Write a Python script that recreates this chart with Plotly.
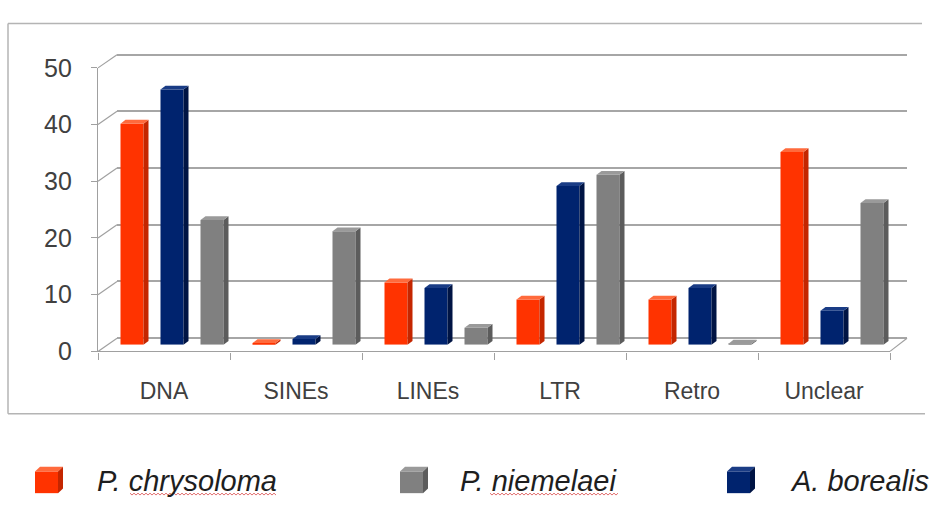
import plotly.graph_objects as go

# ---- data -------------------------------------------------------------
categories = ["DNA", "SINEs", "LINEs", "LTR", "Retro", "Unclear"]
p_chrysoloma = [39, 0.3, 11, 8, 8, 34]
a_borealis = [45, 1, 10, 28, 10, 6]
p_niemelaei = [22, 20, 3, 30, 0.2, 25]
y_ticks = [0, 10, 20, 30, 40, 50]

# series drawn left-to-right inside each category group
series = [
    ("P. chrysoloma", p_chrysoloma, "#FF3300", "#C42600", "#FF6A3C"),
    ("A. borealis", a_borealis, "#00236E", "#001444", "#1A3C85"),
    ("P. niemelaei", p_niemelaei, "#808080", "#5C5C5C", "#9A9A9A"),
]
# legend order as printed under the chart
legend_order = [0, 2, 1]

# ---- page geometry (pixels) --------------------------------------------
W, H = 934, 510
PX_PER_UNIT = 6.0          # vertical pixels per value unit
N = len(categories)


def px(x):
    return x / W


def py(y):
    return 1 - y / H


def ydomain(zero_px, lo, hi):
    return [py(zero_px - PX_PER_UNIT * lo), py(zero_px - PX_PER_UNIT * hi)]


# three depth planes of the pseudo-3D chart: back wall, bar plane, front axes
BACK = dict(left=117, right=907, zero=343)
MID = dict(left=106, right=898, zero=350)
FRONT = dict(left=98, right=890, zero=357)

GRID = "#A6A6A6"
AXIS = "#A0A0A0"
TXT = "#404040"
FONT = "Liberation Sans, Arial, sans-serif"

fig = go.Figure()

# back wall: carries the horizontal gridlines
fig.add_trace(go.Scatter(x=[None], y=[None], xaxis="x", yaxis="y",
                         showlegend=False, hoverinfo="skip"))
# front axes: category labels and value labels
fig.add_trace(go.Scatter(x=categories, y=[0] * N, xaxis="x2", yaxis="y2",
                         mode="markers", marker=dict(opacity=0),
                         showlegend=False, hoverinfo="skip"))

# bar plane
cat_w_px = (MID["right"] - MID["left"]) / N
slot = 40 / cat_w_px
bar_w = 23 / cat_w_px
dx = 5 / cat_w_px
dy = 4 / PX_PER_UNIT

shapes = []
for k, (name, vals, front, side, top) in enumerate(series):
    off = (k - 1) * slot - bar_w / 2
    fig.add_trace(go.Bar(
        x=categories, y=vals, name=name, xaxis="x3", yaxis="y3",
        width=[bar_w] * N, offset=[off] * N,
        marker=dict(color=front, line=dict(width=0)),
        showlegend=False,
    ))
    for i, v in enumerate(vals):
        xl = i + off
        xr = xl + bar_w
        # right side face
        shapes.append(dict(
            type="path", xref="x3", yref="y3", layer="above",
            path=f"M{xr},0 L{xr + dx},{dy} L{xr + dx},{v + dy} L{xr},{v} Z",
            fillcolor=side, line=dict(width=0)))
        # top face
        shapes.append(dict(
            type="path", xref="x3", yref="y3", layer="above",
            path=f"M{xl},{v} L{xr},{v} L{xr + dx},{v + dy} L{xl + dx},{v + dy} Z",
            fillcolor=top, line=dict(width=0)))

# left wall / floor connectors between the front axes and the back wall
for t in y_ticks:
    shapes.append(dict(
        type="line", xref="paper", yref="paper",
        x0=px(FRONT["left"]), y0=py(FRONT["zero"] - PX_PER_UNIT * t),
        x1=px(BACK["left"]), y1=py(BACK["zero"] - PX_PER_UNIT * t),
        line=dict(color=AXIS, width=1.2)))
shapes.append(dict(
    type="line", xref="paper", yref="paper",
    x0=px(FRONT["right"]), y0=py(FRONT["zero"]),
    x1=px(BACK["right"]), y1=py(BACK["zero"]),
    line=dict(color=AXIS, width=1.2)))

# chart frame
for (x0, y0, x1, y1) in [(8, 10, 922, 10), (8, 10, 8, 423), (8, 423, 925, 423)]:
    shapes.append(dict(type="line", xref="paper", yref="paper",
                       x0=px(x0), y0=py(y0), x1=px(x1), y1=py(y1),
                       line=dict(color="#B4B4B4", width=1.5)))

# legend: small cubes + italic labels
legend_items = [(35, 95), (400, 458), (727, 788)]
annotations = []
for (ix, tx), k in zip(legend_items, legend_order):
    name, _, front, side, top = series[k]
    s, t = 23, 5
    y_top, y_bot = 484, 507
    shapes.append(dict(type="rect", xref="paper", yref="paper",
                       x0=px(ix), x1=px(ix + s), y0=py(y_bot), y1=py(y_top),
                       fillcolor=front, line=dict(width=0)))
    shapes.append(dict(type="path", xref="paper", yref="paper",
                       path=(f"M{px(ix)},{py(y_top)} L{px(ix + s)},{py(y_top)} "
                             f"L{px(ix + s + t)},{py(y_top - t)} L{px(ix + t)},{py(y_top - t)} Z"),
                       fillcolor=top, line=dict(width=0)))
    shapes.append(dict(type="path", xref="paper", yref="paper",
                       path=(f"M{px(ix + s)},{py(y_top)} L{px(ix + s + t)},{py(y_top - t)} "
                             f"L{px(ix + s + t)},{py(y_bot - t)} L{px(ix + s)},{py(y_bot)} Z"),
                       fillcolor=side, line=dict(width=0)))
    annotations.append(dict(
        xref="paper", yref="paper", x=px(tx), y=py(494),
        xanchor="left", yanchor="middle", showarrow=False,
        text=name, font=dict(family=FONT, size=29, color="#1E1E1E", style="italic")))


# spell-check squiggles under the species epithets
def squiggle(x0, x1, y):
    pts = []
    x, up = x0, True
    while x <= x1:
        pts.append(f"{px(x)},{py(y - 1 if up else y + 1)}")
        x += 2
        up = not up
    return "M" + " L".join(pts)


for (x0, x1) in [(130, 277), (490, 619)]:
    shapes.append(dict(type="path", xref="paper", yref="paper",
                       path=squiggle(x0, x1, 508),
                       line=dict(color="rgba(215,60,60,0.75)", width=1)))

fig.update_layout(
    width=W, height=H,
    margin=dict(l=0, r=0, t=0, b=0),
    paper_bgcolor="white",
    plot_bgcolor="rgba(0,0,0,0)",
    barmode="overlay",
    showlegend=False,
    shapes=shapes,
    annotations=annotations,
    # back wall
    xaxis=dict(domain=[px(BACK["left"]), px(BACK["right"])],
               range=[-0.5, N - 0.5], visible=False),
    yaxis=dict(domain=ydomain(BACK["zero"], -1, 51), range=[-1, 51],
               tickvals=y_ticks, showticklabels=False, ticks="",
               showgrid=True, gridcolor=GRID, gridwidth=2,
               zeroline=False, showline=False),
    # front axes
    xaxis2=dict(domain=[px(FRONT["left"]), px(FRONT["right"])],
                anchor="y2", type="category", categoryorder="array",
                categoryarray=categories, range=[-0.5, N - 0.5],
                tickson="boundaries", ticks="outside", ticklen=7,
                tickcolor=AXIS, showline=True, linecolor=AXIS, linewidth=1.2,
                showgrid=False, ticklabelstandoff=19,
                tickfont=dict(family=FONT, size=23, color=TXT)),
    yaxis2=dict(domain=ydomain(FRONT["zero"], 0, 50), anchor="x2",
                range=[0, 50], tickvals=y_ticks, ticks="outside", ticklen=6,
                tickcolor=AXIS, showline=True, linecolor=AXIS, linewidth=1.2,
                showgrid=False, zeroline=False, ticklabelstandoff=14,
                tickfont=dict(family=FONT, size=25, color=TXT)),
    # bar plane
    xaxis3=dict(domain=[px(MID["left"]), px(MID["right"])], anchor="y3",
                type="category", categoryorder="array", categoryarray=categories,
                range=[-0.5, N - 0.5], visible=False),
    yaxis3=dict(domain=ydomain(MID["zero"], 0, 50), anchor="x3",
                range=[0, 50], visible=False),
)

fig.write_html("out.html")
